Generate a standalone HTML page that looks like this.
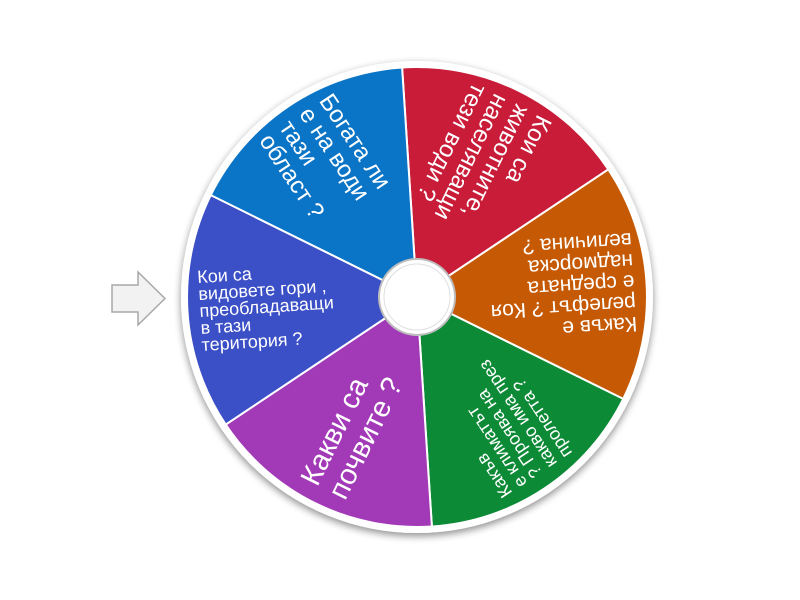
<!DOCTYPE html>
<html><head><meta charset="utf-8"><style>
html,body{margin:0;padding:0;background:#fff;width:800px;height:600px;overflow:hidden}
text{font-family:"Liberation Sans","DejaVu Sans",sans-serif;fill:#fff}
</style></head><body>
<svg width="800" height="600" viewBox="0 0 800 600" xmlns="http://www.w3.org/2000/svg">
<defs>
<filter id="sh" x="-10%" y="-10%" width="120%" height="120%"><feGaussianBlur in="SourceAlpha" stdDeviation="4"/><feOffset dx="0" dy="3"/><feComponentTransfer><feFuncA type="linear" slope="0.45"/></feComponentTransfer><feMerge><feMergeNode/><feMergeNode in="SourceGraphic"/></feMerge></filter>
</defs>
<path d="M112,285 L138,285 L138,272 L165,298.5 L138,325 L138,312 L112,312 Z" fill="#f2f2f2" stroke="#a8a8a8" stroke-width="1.5"/>
<g transform="translate(417,297)">
<circle r="236" fill="#fff" filter="url(#sh)"/>
<g stroke="#fff" stroke-width="2">
<path d="M0,0 L-14.9,-229.5 A230,230 0 0 1 191.3,-127.6 Z" fill="#c81c38"/>
<path d="M0,0 L191.3,-127.6 A230,230 0 0 1 206.2,101.9 Z" fill="#c65a04"/>
<path d="M0,0 L206.2,101.9 A230,230 0 0 1 14.9,229.5 Z" fill="#0c8a36"/>
<path d="M0,0 L14.9,229.5 A230,230 0 0 1 -191.3,127.6 Z" fill="#a23ab8"/>
<path d="M0,0 L-191.3,127.6 A230,230 0 0 1 -206.2,-101.9 Z" fill="#3b4fc6"/>
<path d="M0,0 L-206.2,-101.9 A230,230 0 0 1 -14.9,-229.5 Z" fill="#0a74c6"/>
</g>
<circle r="38" fill="#fff" stroke="#bdbdbd" stroke-width="2"/>
<circle r="33" fill="#fff" stroke="#e0e0e0" stroke-width="1"/>
<g transform="rotate(-3.7)" font-size="18">
<text x="-218" y="-28">Кои са</text>
<text x="-218" y="-11">видовете гори ,</text>
<text x="-218" y="6">преобладаващи</text>
<text x="-218" y="23">в тази</text>
<text x="-218" y="40">територия ?</text>
</g>
<g transform="rotate(56.3)" font-size="24">
<text x="-218" y="-27">Богата ли</text>
<text x="-218" y="-3">е на води</text>
<text x="-218" y="21">тази</text>
<text x="-218" y="45">област ?</text>
</g>
<g transform="rotate(116.3)" font-size="24">
<text x="-218" y="-27">Кои са</text>
<text x="-218" y="-3">животните,</text>
<text x="-218" y="21">населяващи</text>
<text x="-218" y="45">тези води ?</text>
</g>
<g transform="rotate(176.3)" font-size="21">
<text x="-218" y="-34">Какъв е</text>
<text x="-218" y="-13">релефът ? Коя</text>
<text x="-218" y="8">е средната</text>
<text x="-218" y="29">надморска</text>
<text x="-218" y="50">величина ?</text>
</g>
<g transform="rotate(-123.7)" font-size="18">
<text x="-216" y="-29">Какъв</text>
<text x="-216" y="-11">е климатът</text>
<text x="-216" y="7">? Проява на</text>
<text x="-216" y="25">какво има през</text>
<text x="-216" y="43">пролетта ?</text>
</g>
<g transform="rotate(-63.7)" font-size="29">
<text x="-215" y="-5">Какви са</text>
<text x="-215" y="26">почвите ?</text>
</g>
</g>
</svg>
</body></html>
